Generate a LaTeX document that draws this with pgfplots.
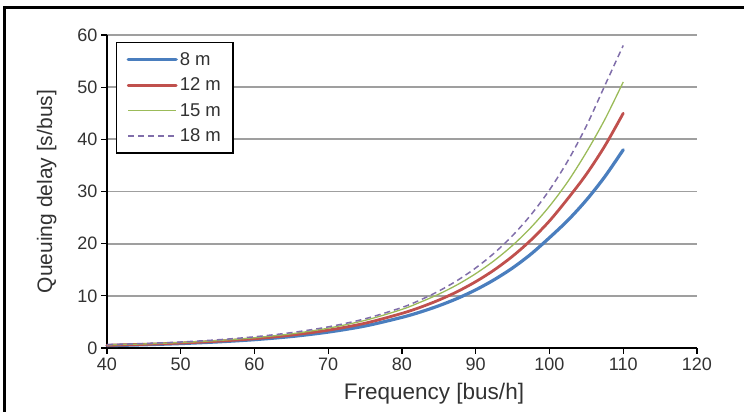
\documentclass[border=0pt]{standalone}
\usepackage{pgfplots}
\pgfplotsset{compat=1.18}
\usepackage{fontspec}
\setmainfont{Liberation Sans}
\definecolor{cblue}{RGB}{74,126,190}
\definecolor{cred}{RGB}{192,80,77}
\definecolor{cgreen}{RGB}{155,187,89}
\definecolor{cpurple}{RGB}{128,110,170}
\definecolor{ctext}{RGB}{50,50,50}
\begin{document}
\begin{tikzpicture}[x=1pt,y=1pt]
\useasboundingbox (0,0) rectangle (744,412);
\begin{axis}[
  at={(107pt,64pt)}, anchor=south west,
  scale only axis, width=590pt, height=313pt,
  xmin=40, xmax=120, ymin=0, ymax=60,
  xtick={40,50,...,120}, ytick={0,10,...,60},
  axis x line*=bottom, axis y line*=left,
  axis line style={black, line width=1.6pt, -},
  tick align=outside, major tick length=6pt,
  tick style={black, line width=1.2pt},
  ymajorgrids, grid style={gray!75, line width=1.8pt},
  ticklabel style={font=\fontsize{18}{20}\selectfont, text=ctext},
  /pgf/number format/assume math mode=true,
  xlabel={Frequency [bus/h]}, ylabel={Queuing delay [s/bus]},
  label style={text=ctext},
  xlabel style={font=\fontsize{22.5}{25}\selectfont, yshift=-6pt, xshift=32pt},
  ylabel style={font=\fontsize{21}{24}\selectfont, yshift=14pt},
  legend style={at={(axis cs:41.2,58.7)}, anchor=north west, draw=black, line width=1.5pt,
    font=\fontsize{18.5}{21}\selectfont, text=ctext, row sep=7pt, inner xsep=10pt, inner ysep=8pt, fill=white},
  legend cell align=left,
  legend image code/.code={\draw[#1] (0pt,0pt) -- (48pt,0pt);},
  clip=false,
]
\addplot[cblue, line width=3.2pt, smooth, line cap=round] coordinates {
(40,0.45) (45,0.62) (50,0.85) (55,1.17) (60,1.6) (65,2.2) (70,3.05) (75,4.22) (80,5.88) (82.5,6.9) (85,8.1) (87.5,9.5) (90,11.15) (92.5,13.09) (95,15.35) (97.5,18.02) (100,21.15) (102.5,24.49) (105,28.36) (107.5,32.84) (110,38.0)
};
\addlegendentry{8 m}
\addplot[cred, line width=2.8pt, smooth, line cap=round] coordinates {
(40,0.52) (45,0.7) (50,0.95) (55,1.3) (60,1.78) (65,2.47) (70,3.42) (75,4.75) (80,6.64) (82.5,7.81) (85,9.19) (87.5,10.81) (90,12.72) (92.5,14.96) (95,17.6) (97.5,20.71) (100,24.36) (102.5,28.66) (105,33.31) (107.5,38.72) (110,45.0)
};
\addlegendentry{12 m}
\addplot[cgreen, line width=1.3pt, smooth] coordinates {
(40,0.58) (45,0.78) (50,1.05) (55,1.43) (60,1.97) (65,2.72) (70,3.8) (75,5.3) (80,7.4) (82.5,8.79) (85,10.33) (87.5,12.13) (90,14.26) (92.5,16.75) (95,19.68) (97.5,23.13) (100,27.18) (102.5,31.93) (105,37.52) (107.5,43.8) (110,51.0)
};
\addlegendentry{15 m}
\addplot[cpurple, line width=1.5pt, dash pattern=on 6pt off 4pt, smooth] coordinates {
(40,0.65) (45,0.86) (50,1.15) (55,1.57) (60,2.15) (65,2.95) (70,4.05) (75,5.6) (80,7.77) (82.5,9.22) (85,10.92) (87.5,12.95) (90,15.35) (92.5,18.19) (95,21.56) (97.5,25.56) (100,30.3) (102.5,35.91) (105,42.56) (107.5,50.3) (110,58.0)
};
\addlegendentry{18 m}
\end{axis}
\draw[black, line width=3pt] (4,0) -- (4,404) -- (744,404);
\end{tikzpicture}
\end{document}
